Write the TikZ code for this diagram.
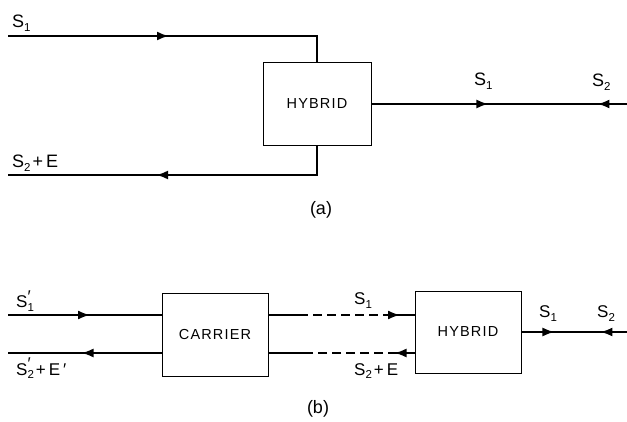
\documentclass[tikz,border=0pt]{standalone}
\usepackage{fontspec}
\setmainfont{Liberation Sans}
\usetikzlibrary{arrows.meta,decorations.markings}
\newcommand\sbs[1]{\raisebox{-0.4ex}{\fontsize{11.5}{11.5}\selectfont #1}}
\newcommand\Spr[1]{S\makebox[0pt][l]{\raisebox{0.6ex}{′}}\sbs{#1}}
\newcommand\plus{\hspace{2pt}+\hspace{3pt}}
\tikzset{
  sig/.style={line width=2.1pt},
  sigb/.style={line width=1.9pt},
  boxst/.style={draw, line width=0.9pt, minimum width=108pt, minimum height=83pt, inner sep=0pt,
    font=\fontsize{14.5}{14.5}\selectfont\addfontfeature{LetterSpace=8}},
  fwd/.style={postaction={decorate,decoration={markings,mark=at position #1 with {\arrow{Latex[length=12pt,width=9pt]}}}}},
  bwd/.style={postaction={decorate,decoration={markings,mark=at position #1 with {\arrowreversed{Latex[length=12pt,width=9pt]}}}}},
  lab/.style={anchor=base west, inner sep=0pt, font=\fontsize{18}{18}\selectfont},
  labb/.style={anchor=base west, inner sep=0pt, font=\fontsize{17}{17}\selectfont},
  captxt/.style={inner sep=0pt, font=\fontsize{18}{18}\selectfont},
}
\begin{document}
\begin{tikzpicture}[x=1pt,y=-1pt]
\fill[white] (0,0) rectangle (627,422);
\useasboundingbox (0,0) rectangle (627,422);
% ---------- (a)
\node[boxst] (hybA) at (317,104) {HYBRID};
\coordinate (a1) at (8,36);
\coordinate (a2) at (317,36);
\coordinate (a3) at (317,175);
\coordinate (a4) at (8,175);
\coordinate (a5) at (627,104);
\draw[sig,fwd=161pt] (a1) -- (a2) -- (hybA.north);
\draw[sig,fwd=190pt] (hybA.south) -- (a3) -- (a4);
\draw[sig,fwd=117pt,bwd=226pt] (hybA.east) -- (a5);
\node[lab] (la1) at (12,28) {S\sbs{1}};
\node[lab] (la2) at (12,168) {S\sbs{2}\plus E};
\node[lab] (la3) at (474,86) {S\sbs{1}};
\node[lab] (la4) at (592,87) {S\sbs{2}};
\node[captxt] (capa) at (321,210) {(a)};
% ---------- (b)
\node[boxst,minimum width=106pt] (car) at (215,334.5) {CARRIER};
\node[boxst,minimum width=106pt,minimum height=82pt] (hybB) at (468,332) {HYBRID};
\coordinate (b1) at (8,315);
\coordinate (b2) at (8,353);
\coordinate (b5) at (627,332);
\coordinate (d1) at (308,315);
\coordinate (d2) at (392,315);
\coordinate (d3) at (388,353);
\coordinate (d4) at (308,353);
\draw[sigb,fwd=82pt] (b1) -- (b1 -| car.west);
\draw[sigb,fwd=80pt] (b2 -| car.west) -- (b2);
\draw[sigb] (b1 -| car.east) -- (d1);
\draw[sigb,dash pattern=on 9pt off 5pt,dash phase=9pt] (d1) -- (d2);
\draw[sigb,fwd=8pt] (d2) -- (d2 -| hybB.west);
\draw[sigb,fwd=20pt] (b2 -| hybB.west) -- (d3);
\draw[sigb,dash pattern=on 9pt off 5pt,dash phase=9pt] (d3) -- (d4);
\draw[sigb] (d4) -- (b2 -| car.east);
\draw[sigb,fwd=33pt,bwd=79pt] (hybB.east) -- (b5);
\node[labb] (lb1) at (16,308) {\Spr{1}};
\node[labb] (lb2) at (16,375) {\Spr{2}\plus E\,′};
\node[labb] (lb3) at (354,305) {S\sbs{1}};
\node[labb] (lb4) at (354,375) {S\sbs{2}\plus E};
\node[labb] (lb5) at (539,318) {S\sbs{1}};
\node[labb] (lb6) at (597,318) {S\sbs{2}};
\node[captxt] (capb) at (318,409) {(b)};
\end{tikzpicture}
\end{document}
